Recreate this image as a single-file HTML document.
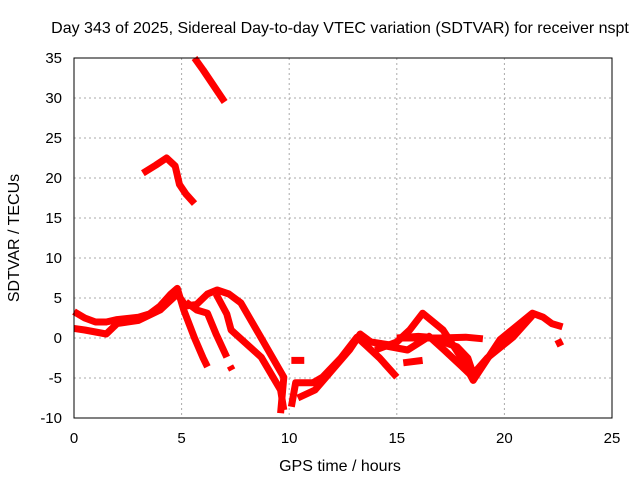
<!DOCTYPE html>
<html><head><meta charset="utf-8"><style>
body{margin:0;background:#fff;font-family:"Liberation Sans",sans-serif;}
svg text{font-family:"Liberation Sans",sans-serif;fill:#000;}
</style></head><body>
<svg id="chart" width="640" height="480">
<text x="340" y="33" text-anchor="middle" font-size="16">Day 343 of 2025, Sidereal Day-to-day VTEC variation (SDTVAR) for receiver nspt</text>
<text x="340" y="471" text-anchor="middle" font-size="16">GPS time / hours</text>
<text transform="translate(19,238) rotate(-90)" text-anchor="middle" font-size="16">SDTVAR / TECUs</text>
<g id="grid"></g><g id="series"></g>
<rect x="74" y="58" width="538" height="360" fill="none" stroke="#000"/>
</svg>
<script>
const xTicks=[0,5,10,15,20,25];
const yTicks=[-10,-5,0,5,10,15,20,25,30,35];
const track1=[[5.6,35],[6,33.5],[6.5,31.5],[7,29.5]];
const track2=[[3.2,20.6],[3.8,21.6],[4.3,22.5],[4.7,21.5],[4.9,19.2],[5.2,18],[5.6,16.8]];
const track3=[[0,3.3],[0.5,2.5],[1,2],[1.5,2],[2,2.3],[3,2.6],[3.5,3],[4,4],[4.5,5.5],[4.8,6.2],[5.1,3.5],[5.6,0],[6,-2.5],[6.2,-3.6]];
const track4=[[0,1.2],[0.5,1],[1.5,0.5],[2,1.8],[3,2.2],[4,3.5],[4.8,5.5],[5.2,4],[5.7,4.2],[6.2,5.5],[6.65,6],[7.2,5.5],[7.75,4.4],[8.7,0],[9.75,-4.9],[9.6,-9.4]];
const track5=[[5.2,4.5],[5.7,3.5],[6.2,3.1],[6.6,0.5],[7.1,-2.4]];
const track6=[[6.6,5.5],[7.1,3],[7.3,1],[8.7,-2.4],[9.6,-6.5],[9.75,-9]];
const track7=[[10.1,-2.8],[10.7,-2.8]];
const track14=[[7.25,-3.5],[7.35,-4]];
const track8=[[10.1,-8.6],[10.3,-5.6],[11.1,-5.6],[11.55,-4.9],[12.4,-2.5],[13.15,0.1],[13.6,-1],[14.2,-2.5],[15,-4.9]];
const track9=[[10.4,-7.5],[11.2,-6.5],[12,-4],[12.8,-1.5],[13.3,0.5],[13.8,-0.5],[15,-1]];
const track10=[[14,-1.5],[15,-0.5],[15.6,1],[16.2,3.1],[17.15,1],[18,-2.5],[18.55,-5.3],[19.8,-0.2],[21.3,3.1],[21.8,2.6],[22.2,1.8],[22.7,1.4]];
const track11=[[15,0],[16,0.2],[16.5,0.1],[17.8,-1.1],[18.3,-2.5],[18.55,-4.5],[19.2,-2.5],[20.4,0.1],[21.3,2.8]];
const track12=[[14.5,-1],[15.5,-1.5],[16.5,0.2],[17.2,-1.5],[17.6,-2.5],[18,-3.5],[18.5,-4.8]];
const track15=[[15.3,-3.1],[16.2,-2.8]];
const track16=[[15,0],[17,0],[18.2,0.1],[19,-0.1]];
const track13=[[22.4,-0.8],[22.7,-0.4]];
const tracks=[track1,track2,track3,track4,track5,track6,track7,track8,track9,track10,track11,track12,track13,track14,track15,track16];
const X=v=>74+v*538/25, Y=v=>418-(v+10)*8;
const NS="http://www.w3.org/2000/svg";
const g=document.getElementById('grid'), s=document.getElementById('series');
xTicks.forEach(t=>{
 const l=document.createElementNS(NS,'line');
 l.setAttribute('x1',X(t));l.setAttribute('x2',X(t));l.setAttribute('y1',58);l.setAttribute('y2',418);
 l.setAttribute('stroke',t>0&&t<25?'#aaa':'none');l.setAttribute('stroke-dasharray','2,3');
 
 
 g.appendChild(l);
 const tx=document.createElementNS(NS,'text');
 tx.setAttribute('x',X(t));tx.setAttribute('y',443);tx.setAttribute('text-anchor','middle');tx.setAttribute('font-size','15');tx.textContent=t;
 
 
 g.appendChild(tx);
});
yTicks.forEach(t=>{
 const l=document.createElementNS(NS,'line');
 l.setAttribute('x1',74);l.setAttribute('x2',612);l.setAttribute('y1',Y(t));l.setAttribute('y2',Y(t));
 l.setAttribute('stroke',t>-10&&t<35?'#aaa':'none');l.setAttribute('stroke-dasharray','2,3');
 
 
 g.appendChild(l);
 const tx=document.createElementNS(NS,'text');
 tx.setAttribute('x',62);tx.setAttribute('y',Y(t)+5);tx.setAttribute('text-anchor','end');tx.setAttribute('font-size','15');tx.textContent=t;
 
 
 g.appendChild(tx);
});
tracks.forEach(tr=>{
 const p=document.createElementNS(NS,'polyline');
 p.setAttribute('points',tr.map(d=>X(d[0])+','+Y(d[1])).join(' '));
 p.setAttribute('fill','none');p.setAttribute('stroke','#f00');p.setAttribute('stroke-width','7');
 p.setAttribute('stroke-linejoin','round');
 
 
 s.appendChild(p);
});
</script>
</body></html>
